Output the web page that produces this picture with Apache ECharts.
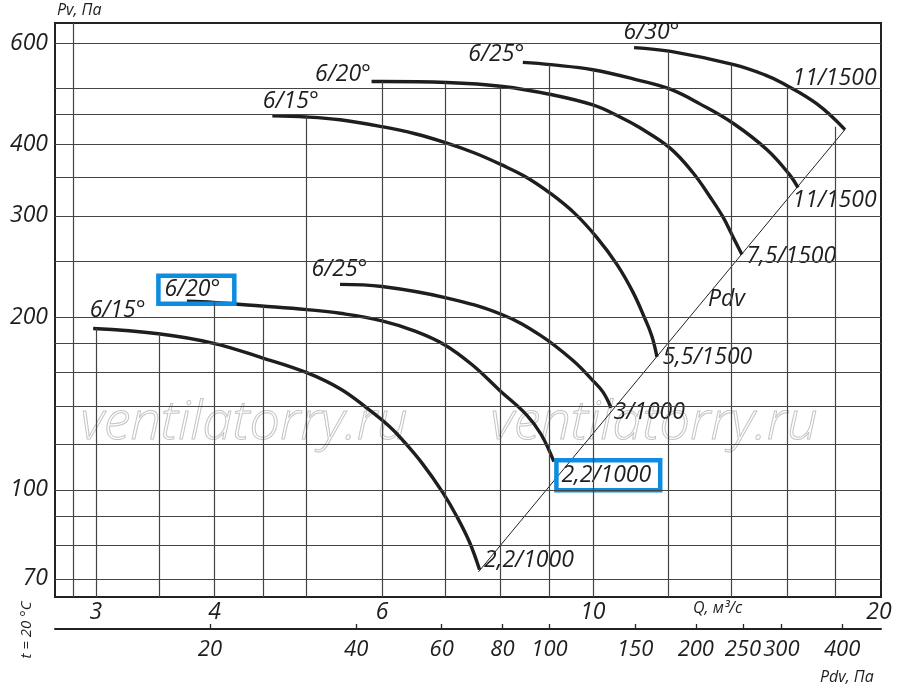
<!DOCTYPE html>
<html>
<head>
<meta charset="utf-8">
<script src="https://cdn.jsdelivr.net/npm/echarts@6/dist/echarts.min.js"></script>
<style>
  html, body { margin: 0; padding: 0; background: #fff; }
  #chart { width: 900px; height: 694px; }
</style>
</head>
<body>
<div id="chart"></div>
<script>
// fan curves on a log-log chart: Q in m3/s, Pv in Pa
const startLabels = ['6/15°', '6/20°', '6/25°', '6/15°', '6/20°', '6/25°', '6/30°'];
const endLabels = ['2,2/1000', '2,2/1000', '3/1000', '5,5/1500', '7,5/1500', '11/1500', '11/1500'];

const q1 = [2.98, 3.49, 3.99, 4.48, 5.0, 5.42, 5.78, 6.11, 6.31, 6.62, 6.95, 7.19, 7.42, 7.6];
const pv1 = [191, 187, 180, 170, 160, 150, 139, 129, 122, 111, 99, 90, 81, 72.6];
const q2 = [3.74, 3.99, 4.48, 5.0, 5.42, 6.0, 6.5, 6.98, 7.47, 7.98, 8.52, 8.82, 9.1];
const pv2 = [213, 212, 209, 206, 203, 197, 189, 179, 165, 149, 135, 125, 112];
const q3 = [5.42, 6.0, 7.01, 8.02, 8.8, 9.53, 10.0, 10.25, 10.45];
const pv3 = [228, 226, 216, 202, 186, 168, 155, 148, 139];
const q4 = [4.6, 5.0, 5.42, 6.0, 6.5, 7.01, 7.51, 8.02, 8.52, 9.03, 9.57, 10.1, 10.6, 11.02, 11.34, 11.54, 11.68];
const pv4 = [448, 446, 441, 429, 417, 402, 386, 368, 350, 328, 303, 275, 247, 221, 199, 185, 170.5];
const q5 = [5.85, 6.0, 7.02, 8.04, 9.03, 10.0, 10.68, 11.21, 12.05, 12.74, 13.28, 13.7, 14.04, 14.35];
const pv5 = [514, 514, 512, 504, 488, 468, 446, 427, 394, 357, 324, 299, 276, 257];
const q6 = [8.44, 9.03, 10.0, 11.21, 12.08, 12.96, 14.07, 15.25, 16.08, 16.44];
const pv6 = [555, 550, 539, 516, 498, 470, 434, 391, 355, 336];
const q7 = [11.05, 12.08, 14.07, 15.17, 15.86, 17.21, 18.42];
const pv7 = [589, 580, 550, 528, 510, 470, 424];

// dynamic pressure line (Pdv)
const pdvQ = [7.58, 18.42];
const pdvPv = [72, 424];

// axes
const qTicks = [3, 4, 6, 10, 20];
const pvTicks = [70, 100, 200, 300, 400, 600];
const pdvTicks = [20, 40, 60, 80, 100, 150, 200, 250, 300, 400];
const pvGrid = [70, 80, 90, 100, 120, 140, 160, 180, 200, 250, 300, 350, 400, 450, 500, 600];
const qGrid = [2.84, 3, 3.5, 4, 4.5, 5, 6, 7, 8, 9, 10, 12, 14, 16, 18];
const qGridTop = [650, 191, 187, 212, 209, 447, 514, 512, 504, 550, 539, 580, 550, 501, 429];

const Q_MIN = 2.717, Q_MAX = 20.1;
const PV_MIN = 65.1, PV_MAX = 650;
const PDV_MIN = 9.6, PDV_MAX = 481;

const font = '"Open Sans", sans-serif';
const ink = '#1e1e1e';
const blue = '#0d8ce0';
const numSize = 23;

// label offsets from the first / last point of each curve
const startOffsets = [[-3, -18], [-28, -11], [-28, -14], [-9, -14], [-56, -7], [-54, -7], [-10, -15]];
const endOffsets = [[5, -9], [3, 14], [3, 5], [6, 1], [5, 2], [-5, 13], [-52, -51]];
// blue highlight frames (padding inside the frame), null = no frame
const startBox = [null, [3, 14, 2, 6], null, null, null, null, null];
const endBox = [null, [4, 9, 3, 5], null, null, null, null, null];

function makeLabel(text, off, box) {
  const l = {
    show: true, formatter: text, position: off,
    align: 'left', verticalAlign: 'middle',
    fontSize: numSize, fontStyle: 'italic', color: ink, fontFamily: font
  };
  if (box) {
    l.borderColor = blue;
    l.borderWidth = 4.5;
    l.padding = box;
  }
  return l;
}

const curves = [[q1, pv1], [q2, pv2], [q3, pv3], [q4, pv4], [q5, pv5], [q6, pv6], [q7, pv7]];

const curveSeries = curves.map(([qs, pvs], i) => ({
  type: 'line',
  name: startLabels[i] + ' ' + endLabels[i],
  smooth: 0.4,
  symbol: 'circle',
  symbolSize: 1,
  itemStyle: { color: 'rgba(0,0,0,0)' },
  lineStyle: { color: ink, width: 3.4 },
  z: 4,
  data: qs.map((q, k) => {
    const item = { value: [q, pvs[k]] };
    if (k === 0) item.label = makeLabel(startLabels[i], startOffsets[i], startBox[i]);
    if (k === qs.length - 1) item.label = makeLabel(endLabels[i], endOffsets[i], endBox[i]);
    return item;
  })
}));

const myChart = echarts.init(document.getElementById('chart'));

const option = {
  animation: false,
  textStyle: { fontFamily: font },
  grid: {
    left: 55, right: 19, top: 23, bottom: 97,
    show: true, borderColor: '#222', borderWidth: 2, backgroundColor: 'transparent'
  },
  xAxis: [
    {
      type: 'log', min: Q_MIN, max: Q_MAX,
      axisLine: { show: false }, axisTick: { show: false }, splitLine: { show: false },
      axisLabel: {
        customValues: qTicks, margin: 4,
        fontSize: numSize, fontStyle: 'italic', color: ink, fontFamily: font
      }
    },
    {
      type: 'log', min: PDV_MIN, max: PDV_MAX, position: 'bottom', offset: 32,
      axisLine: { show: true, onZero: false, lineStyle: { color: '#222', width: 2 } },
      axisTick: { show: true, inside: true, length: 5, customValues: pdvTicks, lineStyle: { color: '#222', width: 1.3 } },
      splitLine: { show: false },
      axisLabel: {
        customValues: pdvTicks, margin: 10,
        fontSize: 22, fontStyle: 'italic', color: ink, fontFamily: font
      }
    }
  ],
  yAxis: {
    type: 'log', min: PV_MIN, max: PV_MAX,
    axisLine: { show: false }, axisTick: { show: false }, splitLine: { show: false },
    axisLabel: {
      customValues: pvTicks, margin: 7,
      fontSize: numSize, fontStyle: 'italic', color: ink, fontFamily: font
    }
  },
  series: [
    {
      type: 'line', name: 'grid', data: [], z: 1, silent: true,
      markLine: {
        silent: true, symbol: ['none', 'none'], label: { show: false },
        lineStyle: { color: '#444', width: 1.2, type: 'solid' },
        data: pvGrid.map(v => ({ yAxis: v }))
          .concat(qGrid.map((q, i) => [{ coord: [q, qGridTop[i]] }, { coord: [q, PV_MIN] }]))
      }
    },
    {
      type: 'line', name: 'Pdv', z: 3, symbol: 'none',
      lineStyle: { color: '#222', width: 1 },
      data: pdvQ.map((q, i) => [q, pdvPv[i]])
    }
  ].concat(curveSeries),
  graphic: [
    {
      type: 'text', left: 80, top: 396, z: 0, silent: true,
      style: { text: 'ventilatorry.ru', fontSize: 54, fontStyle: 'italic', fontWeight: 300, fontFamily: font,
        fill: 'rgba(0,0,0,0)', stroke: '#c4c4c4', lineWidth: 1 }
    },
    {
      type: 'text', left: 490, top: 396, z: 0, silent: true,
      style: { text: 'ventilatorry.ru', fontSize: 54, fontStyle: 'italic', fontWeight: 300, fontFamily: font,
        fill: 'rgba(0,0,0,0)', stroke: '#c4c4c4', lineWidth: 1 }
    },
    {
      type: 'text', left: 57, top: 2,
      style: { text: 'Pv, Па', fontSize: 16, fontStyle: 'italic', fontFamily: font, fill: ink }
    },
    {
      type: 'text', left: 693, top: 600,
      style: { text: 'Q, м³/с', fontSize: 16, fontStyle: 'italic', fontFamily: font, fill: ink }
    },
    {
      type: 'text', left: 820, top: 669,
      style: { text: 'Pdv, Па', fontSize: 16, fontStyle: 'italic', fontFamily: font, fill: ink }
    },
    {
      type: 'text', left: 708, top: 288,
      style: { text: 'Pdv', fontSize: numSize, fontStyle: 'italic', fontFamily: font, fill: ink }
    },
    {
      type: 'text', x: 27, y: 630, rotation: Math.PI / 2,
      style: { text: 't = 20 °C', fontSize: 15, fontStyle: 'italic', fontFamily: font, fill: ink,
        align: 'center', verticalAlign: 'middle' }
    }
  ]
};

myChart.setOption(option);
</script>
</body>
</html>
